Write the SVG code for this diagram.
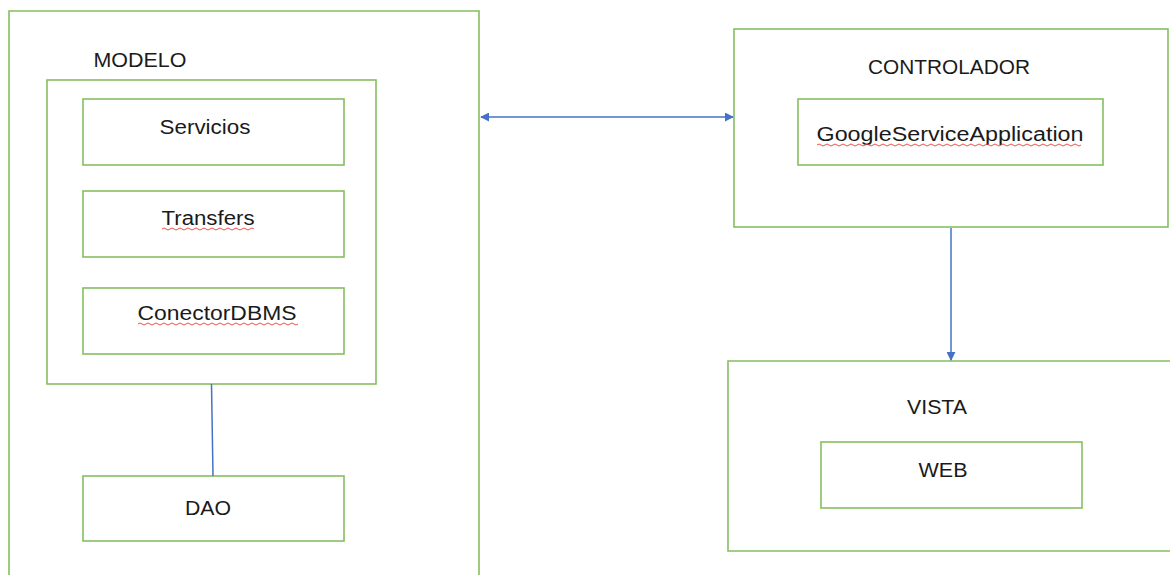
<svg xmlns="http://www.w3.org/2000/svg" width="1170" height="575" viewBox="0 0 1170 575">
<defs>
<style>
.box{fill:none;stroke:#85bf5f;stroke-width:1.6}
.lbl{font-family:"Liberation Sans",Arial,sans-serif;font-size:20px;fill:#1a1a1a;text-anchor:middle}
.con{stroke:#4472c4;stroke-width:1.5;fill:none}
.sq{stroke:#e8413c;stroke-width:0.9;fill:none}
</style>
<marker id="ah" viewBox="0 0 10 10" refX="9" refY="5" markerWidth="9" markerHeight="9" markerUnits="userSpaceOnUse" orient="auto-start-reverse">
<path d="M0,0 L10,5 L0,10 z" fill="#4472c4"/>
</marker>
</defs>
<rect width="1170" height="575" fill="#ffffff"/>
<g id="modelo-outer">
<path class="box" d="M9,580 V11 H479 V580"/>
</g>
<g id="modelo">
<rect class="box" x="47" y="80" width="329" height="304"/>
<text class="lbl" x="140" y="67" textLength="93" lengthAdjust="spacingAndGlyphs">MODELO</text>
</g>
<g id="servicios">
<rect class="box" x="83" y="99" width="261" height="66"/>
<text class="lbl" x="205" y="134" textLength="91" lengthAdjust="spacingAndGlyphs">Servicios</text>
</g>
<g id="transfers">
<rect class="box" x="83" y="191" width="261" height="66"/>
<text class="lbl" x="208" y="225" textLength="93" lengthAdjust="spacingAndGlyphs">Transfers</text>
<path class="sq" d="M162,229 q2,-2 4,0 t4,0 t4,0 t4,0 t4,0 t4,0 t4,0 t4,0 t4,0 t4,0 t4,0 t4,0 t4,0 t4,0 t4,0 t4,0 t4,0 t4,0 t4,0 t4,0 t4,0 t4,0 t4,0"/>
</g>
<g id="conectordbms">
<rect class="box" x="83" y="288" width="261" height="66"/>
<text class="lbl" x="217" y="320" textLength="159" lengthAdjust="spacingAndGlyphs">ConectorDBMS</text>
<path class="sq" d="M138,324 q2,-2 4,0 t4,0 t4,0 t4,0 t4,0 t4,0 t4,0 t4,0 t4,0 t4,0 t4,0 t4,0 t4,0 t4,0 t4,0 t4,0 t4,0 t4,0 t4,0 t4,0 t4,0 t4,0 t4,0 t4,0 t4,0 t4,0 t4,0 t4,0 t4,0 t4,0 t4,0 t4,0 t4,0 t4,0 t4,0 t4,0 t4,0 t4,0 t4,0 t4,0"/>
</g>
<g id="dao">
<rect class="box" x="83" y="476" width="261" height="65"/>
<text class="lbl" x="208" y="515" textLength="46" lengthAdjust="spacingAndGlyphs">DAO</text>
</g>
<g id="controlador">
<rect class="box" x="734" y="29" width="434" height="198"/>
<text class="lbl" x="949" y="74" textLength="162" lengthAdjust="spacingAndGlyphs">CONTROLADOR</text>
</g>
<g id="googleserviceapplication">
<rect class="box" x="798" y="99" width="305" height="66"/>
<text class="lbl" x="950" y="141" textLength="267" lengthAdjust="spacingAndGlyphs">GoogleServiceApplication</text>
<path class="sq" d="M817,145 q2,-2 4,0 t4,0 t4,0 t4,0 t4,0 t4,0 t4,0 t4,0 t4,0 t4,0 t4,0 t4,0 t4,0 t4,0 t4,0 t4,0 t4,0 t4,0 t4,0 t4,0 t4,0 t4,0 t4,0 t4,0 t4,0 t4,0 t4,0 t4,0 t4,0 t4,0 t4,0 t4,0 t4,0 t4,0 t4,0 t4,0 t4,0 t4,0 t4,0 t4,0 t4,0 t4,0 t4,0 t4,0 t4,0 t4,0 t4,0 t4,0 t4,0 t4,0 t4,0 t4,0 t4,0 t4,0 t4,0 t4,0 t4,0 t4,0 t4,0 t4,0 t4,0 t4,0 t4,0 t4,0 t4,0 t4,0"/>
</g>
<g id="vista">
<path class="box" d="M1175,361 H728 V551 H1175"/>
<text class="lbl" x="937" y="414" textLength="60" lengthAdjust="spacingAndGlyphs">VISTA</text>
</g>
<g id="web">
<rect class="box" x="821" y="442" width="261" height="66"/>
<text class="lbl" x="943" y="477" textLength="49" lengthAdjust="spacingAndGlyphs">WEB</text>
</g>
<g id="connectors">
<line class="con" x1="481" y1="117" x2="733" y2="117" marker-start="url(#ah)" marker-end="url(#ah)"/>
<line class="con" x1="951" y1="228" x2="951" y2="360" marker-end="url(#ah)"/>
<line class="con" x1="211.5" y1="384" x2="213" y2="476"/>
</g>
</svg>
